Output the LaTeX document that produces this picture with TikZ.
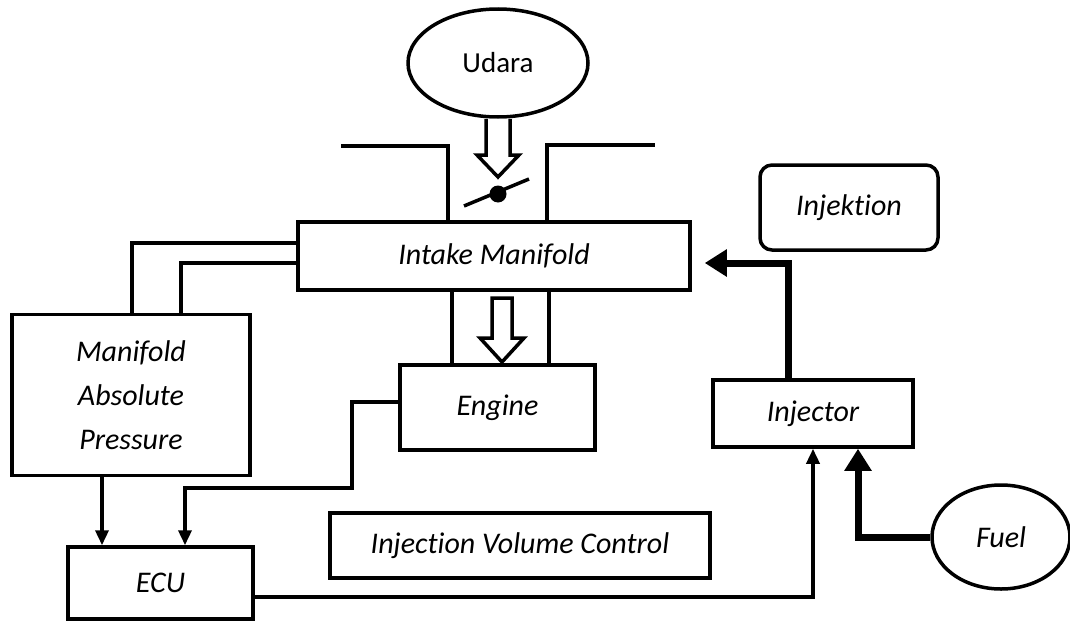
\documentclass[tikz,border=0pt]{standalone}
\usepackage{fontspec}
\setmainfont{Carlito}[Ligatures={NoCommon}]
\usetikzlibrary{arrows.meta,shapes.geometric}
\begin{document}
\begin{tikzpicture}[x=1pt,y=-1pt,
  ln/.style={line width=3.5pt},
  box/.style={draw,line width=3.5pt,rectangle,inner sep=0pt,font=\fontsize{30}{36}\selectfont\itshape},
  oval/.style={draw,line width=3.5pt,ellipse,inner sep=0pt},
  thin/.style={line width=3.5pt,-{Triangle[length=15pt,width=13pt]}},
  fat/.style={line width=7pt,-{Triangle[length=22pt,width=26pt]}},
  hollow/.style={draw,line width=3.5pt,fill=white,line join=miter}]
\useasboundingbox (0,0) rectangle (1070,621);
% nodes
\node[oval,minimum width=180pt,minimum height=108pt,font=\fontsize{29}{34}\selectfont] (udara) at (498,63) {Udara};
\node[box,minimum width=392pt,minimum height=68pt] (intake) at (494,256) {Intake Manifold};
\node[box,minimum width=238pt,minimum height=161pt,align=center,font=\fontsize{30}{44}\selectfont\itshape] (map) at (131,395) {Manifold\\Absolute\\Pressure};
\node[box,minimum width=195pt,minimum height=85pt] (engine) at (497.5,407.5) {\raisebox{5pt}{Engine}};
\node[box,minimum width=185pt,minimum height=72pt] (ecu) at (160.5,583) {ECU};
\node[box,minimum width=380pt,minimum height=65pt] (ivc) at (520,545.5) {Injection Volume Control};
\node[box,rounded corners=12pt,minimum width=178pt,minimum height=85pt] (injektion) at (849,207.5) {Injektion};
\node[box,minimum width=200pt,minimum height=67pt] (injector) at (813,413.5) {Injector};
\node[oval,minimum width=138pt,minimum height=104pt,font=\fontsize{30}{36}\selectfont\itshape] (fuel) at (1001,537) {Fuel};
% air duct
\draw[ln] (341,146) -- (448,146) -- (448,0 |- intake.north);
\draw[ln] (547,0 |- intake.north) -- (547,145) -- (655,145);
\draw[ln] (452,0 |- intake.south) -- (452,0 |- engine.north);
\draw[ln] (549,0 |- intake.south) -- (549,0 |- engine.north);
% hollow arrows
\draw[hollow] (486,0 |- udara.south) -- (486,155) -- (477,155) -- (498,177) -- (519,155) -- (510,155) -- (510,0 |- udara.south);
\draw[hollow] (492,298) -- (492,338) -- (480,338) -- (502,362) -- (524,338) -- (512,338) -- (512,298) -- cycle;
% throttle
\draw[ln] (464,206) -- (529,179);
\fill (498,194) circle (8.5pt);
% MAP to intake
\draw[ln] ([xshift=1pt]map.north) |- ([yshift=13pt]intake.west);
\draw[ln] ([xshift=50pt]map.north) |- ([yshift=-7pt]intake.west);
% to ECU
\draw[thin] ([xshift=-29pt]map.south) -- ([xshift=-29pt]map.south |- ecu.north);
\draw[thin] ([yshift=5.5pt]engine.west) -| (352,488) -| ([xshift=24.5pt]ecu.north);
% ECU to injector
\draw[thin] ([yshift=-14pt]ecu.east) -| (injector.south);
% fuel to injector
\draw[fat] (fuel.west) -| ([xshift=45pt]injector.south);
% injector to intake
\draw[fat] ([xshift=-25pt]injector.north) |- ([xshift=13pt,yshift=-7pt]intake.east);
\end{tikzpicture}
\end{document}
